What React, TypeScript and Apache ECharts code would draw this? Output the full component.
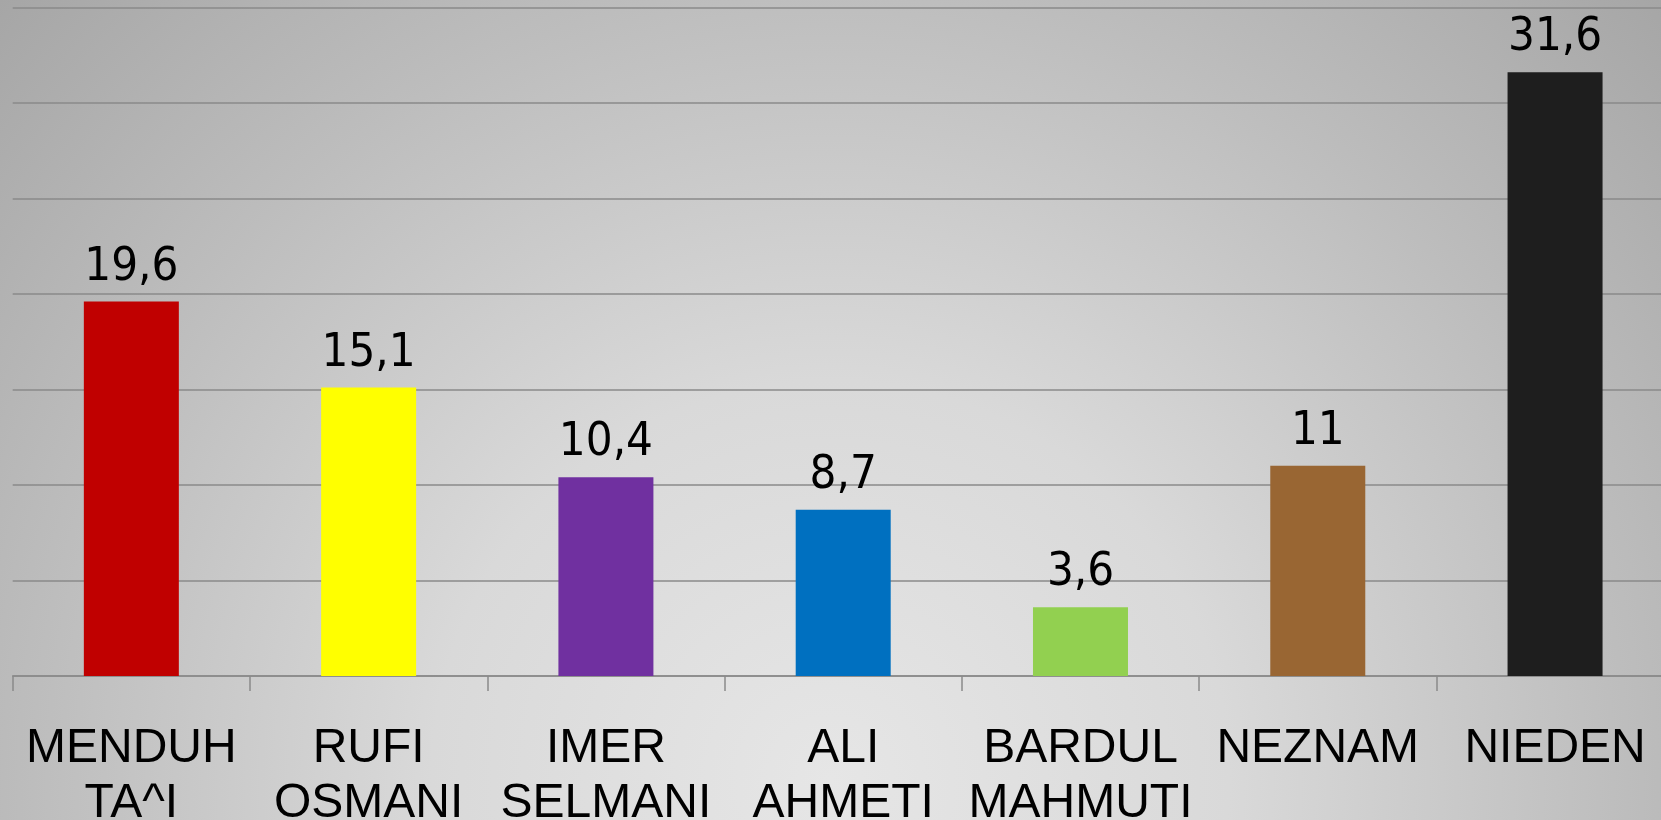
import React, { useEffect, useRef } from "react";
import * as echarts from "echarts";

const categories = ["MENDUH TA^I", "RUFI OSMANI", "IMER SELMANI", "ALI AHMETI", "BARDUL MAHMUTI", "NEZNAM", "NIEDEN"];
const values = [19.6, 15.1, 10.4, 8.7, 3.6, 11, 31.6];
const barColors = ["#C00000", "#FFFF00", "#7030A0", "#0070C0", "#92D050", "#996633", "#1E1E1E"];
const valueLabels = ["19,6", "15,1", "10,4", "8,7", "3,6", "11", "31,6"];

export default function App() {
  const ref = useRef<HTMLDivElement>(null);
  useEffect(() => {
    document.body.style.margin = "0";
    const chart = echarts.init(ref.current!, null, { renderer: "svg" });
    chart.setOption({
      animation: false,
      grid: { left: 12.7, width: 1661, top: 7.3, bottom: 144, containLabel: false, outerBoundsMode: "none" },
      xAxis: {
        type: "category",
        data: categories,
        axisLine: { show: true, lineStyle: { color: "#8a8a8a", width: 1.5 } },
        axisTick: { show: true, length: 15, lineStyle: { color: "#8a8a8a", width: 1.5 } },
        axisLabel: {
          interval: 0,
          margin: 42,
          color: "#000",
          fontFamily: "Liberation Sans, Arial, sans-serif",
          fontSize: 48,
          lineHeight: 55,
          formatter: (v: string) => v.replace(" ", "\n"),
        },
      },
      yAxis: {
        type: "value",
        min: 0,
        max: 35,
        interval: 5,
        axisLabel: { show: false },
        axisLine: { show: false },
        axisTick: { show: false },
        splitLine: { lineStyle: { color: "#8a8a8a", width: 1.5 } },
      },
      series: [
        {
          type: "bar",
          barWidth: 95,
          data: values.map((v, i) => ({ value: v, itemStyle: { color: barColors[i] } })),
          label: {
            show: true,
            position: "top",
            distance: 15,
            color: "#000",
            fontFamily: "DejaVu Sans Condensed, DejaVu Sans, sans-serif",
            fontSize: 47,
            formatter: (p: any) => valueLabels[p.dataIndex],
          },
        },
      ],
    });
    return () => chart.dispose();
  }, []);
  return (
    <div
      ref={ref}
      style={{
        position: "fixed",
        left: 0,
        top: 0,
        width: 1661,
        height: 820,
        background: "radial-gradient(circle at 50% 95%, #e6e6e6 0%, #d9d9d9 35%, #bdbdbd 70%, #a6a6a6 100%)",
      }}
    />
  );
}
